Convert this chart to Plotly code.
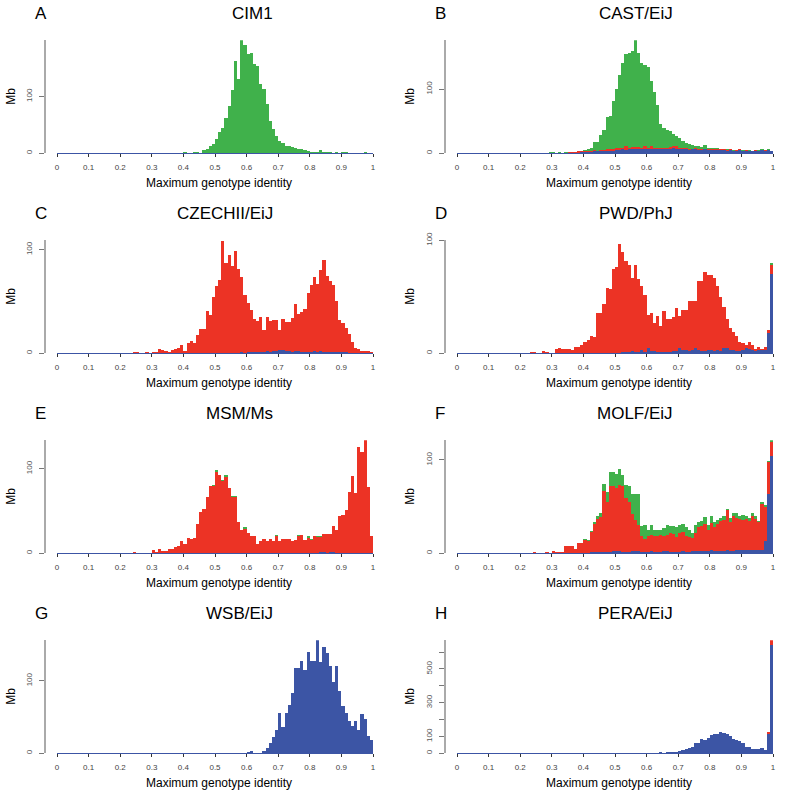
import plotly.graph_objects as go

W, H = 786, 798

# ---------------- data (Mb per 0.01 bin of maximum genotype identity) -------------
bin_centers = [round(i * 0.01 + 0.005, 3) for i in range(100)]
xtick_vals = [0, 0.1, 0.2, 0.3, 0.4, 0.5, 0.6, 0.7, 0.8, 0.9, 1]
xtick_text = ["0", "0.1", "0.2", "0.3", "0.4", "0.5", "0.6", "0.7", "0.8", "0.9", "1"]

cim1_green = [
    0, 0, 0, 0, 0, 0, 0, 0, 0, 0,
    0, 0, 0, 0, 0, 0, 0, 0, 0, 0,
    0, 0, 0, 0, 0, 0, 0, 0, 0, 0,
    0, 0, 1, 0, 0, 0, 0, 0, 0, 0,
    3, 0, 0, 3, 2, 1, 5, 8, 12, 17,
    25, 38, 45, 62, 84, 112, 162, 131, 199, 191,
    175, 176, 157, 153, 122, 113, 86, 57, 42, 30,
    22, 18, 13, 12, 11, 9, 8, 7, 5, 4,
    3, 2, 3, 5, 3, 2, 2, 1, 2, 1,
    2, 2, 1, 1, 0, 0, 1, 2, 0, 1]

cast_blue = [
    0, 0, 0, 0, 0, 0, 0, 0, 0, 0,
    0, 0, 0, 0, 0, 0, 0, 0, 0, 0,
    0, 0, 0, 0, 0, 0, 0, 0, 0, 0,
    0, 0, 0, 0, 0, 1, 1, 1, 1, 2,
    2, 2, 2, 3, 3, 3, 3, 4, 4, 4,
    5, 5, 6, 5, 6, 7, 6, 7, 6, 7,
    6, 7, 6, 6, 7, 6, 6, 7, 8, 7,
    6, 6, 7, 5, 6, 6, 5, 5, 6, 5,
    5, 5, 5, 5, 5, 4, 5, 4, 4, 5,
    4, 4, 4, 3, 4, 4, 5, 4, 5, 3]
cast_red = [
    0, 0, 0, 0, 0, 0, 0, 0, 0, 0,
    0, 0, 0, 0, 0, 0, 0, 0, 0, 0,
    0, 0, 0, 0, 0, 0.5, 0, 0, 0, 1,
    1, 0, 1, 0, 1, 1, 1, 1, 2, 1,
    1, 2, 1, 2, 1, 2, 2, 3, 2, 3,
    3, 4, 3, 6, 3, 3, 4, 3, 3, 4,
    3, 4, 3, 2, 2, 3, 2, 3, 4, 4,
    3, 2, 2, 2, 1, 2, 2, 1, 1, 2,
    1, 1, 2, 1, 1, 1, 1, 0, 1, 1,
    0, 1, 0, 0, 1, 0, 0, 1, 0, 1]
cast_green = [
    0, 0, 0, 0, 0, 0, 0, 0, 0, 0,
    0, 0, 0, 0, 0, 0, 0, 0, 0, 0,
    0, 0, 0, 0, 0, 0.5, 0, 0.5, 0, 0.5,
    0.5, 0.5, 0.5, 1, 1, 0.5, 0.5, 0.5, 1, 1,
    2, 2, 5, 12, 13, 23, 31, 49, 52, 75,
    92, 113, 131, 143, 147, 150, 166, 146, 131, 127,
    125, 101, 87, 67, 37, 31, 29, 24, 18, 16,
    15, 11, 7, 7, 6, 3, 5, 4, 6, 2,
    3, 2, 1, 1, 1, 1, 0, 1, 0, 0,
    1, 0, 1, 1, 0, 1, 1, 0, 1, 0]

czechii_blue = [
    0, 0, 0, 0, 0, 0, 0, 0, 0, 0,
    0, 0, 0, 0, 0, 0, 0, 0, 0, 0,
    0, 0, 0, 0, 0, 0, 0, 0, 0, 0,
    0, 0, 0, 0, 0, 0, 0, 0, 0, 0,
    0, 0, 0, 0, 0, 0, 0, 0, 0, 0,
    0, 0, 0, 0, 0, 0.5, 0.5, 0.5, 1, 0.5,
    1, 1, 1, 1, 1, 1, 2, 1, 2, 2,
    3, 3, 2, 2, 1, 2, 2, 1, 1, 1,
    1, 2, 1, 2, 1, 1, 1, 1, 1, 1,
    1, 1, 0, 0, 0, 0, 0, 0, 0, 0]
czechii_red = [
    0, 0, 0, 0, 0, 0, 0, 0, 0, 0,
    0, 0, 0, 0, 0, 0, 0, 0, 0, 0,
    0, 0, 0, 0, 1, 1, 0, 0, 1, 0,
    1, 1, 4, 3, 2, 1, 3, 4, 5, 8,
    2, 10, 12, 10, 18, 23, 23, 41, 37, 54,
    65, 71, 108, 87, 95, 84, 98, 81, 73, 56,
    48, 41, 32, 30, 34, 21, 33, 30, 30, 30,
    19, 30, 28, 28, 33, 46, 36, 39, 42, 57,
    65, 72, 66, 78, 89, 74, 69, 65, 49, 31,
    28, 23, 19, 11, 5, 4, 2, 2, 2, 1]

pwd_blue = [
    0, 0, 0, 0, 0, 0, 0, 0, 0, 0,
    0, 0, 0, 0, 0, 0, 0, 0, 0, 0,
    0, 0, 0, 0, 0, 0, 0, 0, 0, 0,
    0, 0, 0, 0, 0, 0, 0, 0, 0, 0,
    0, 0, 0, 0, 0, 0.5, 0.5, 0.5, 0.5, 0.5,
    0.5, 0.5, 1, 1, 1, 2, 1.5, 1, 3, 1,
    5, 2, 2, 1.5, 1.5, 1.5, 1, 1.5, 2, 2,
    5, 3, 3, 2, 3, 5, 3, 2, 2, 3,
    3, 2, 3, 2, 5, 5, 3, 3, 2, 2,
    3, 5, 4, 3, 2, 3, 3, 3, 18, 70]
pwd_red = [
    0, 0, 0, 0, 0, 0, 0, 0, 0, 0,
    0, 0, 0, 0, 0, 0, 0, 0, 0, 0,
    0, 0, 0, 1.5, 1.5, 0.5, 0, 2, 1, 0.5,
    0.5, 4, 5, 4, 4, 4, 3, 6, 6, 7,
    10, 12, 15, 14, 36, 35.5, 43.5, 57.5, 56.5, 74.5,
    75.5, 96.5, 89, 81, 77, 65, 76.5, 65, 57, 51,
    29, 34, 25, 31.5, 22.5, 35.5, 29, 28.5, 30, 38,
    28, 35, 35, 44, 43, 41, 61, 62, 70, 66,
    66, 65, 57, 48, 36, 25, 19, 16, 13, 8,
    6, 2, 6, 4, 2, 3, 1, 3, 3, 8]
pwd_green = [
    0, 0, 0, 0, 0, 0, 0, 0, 0, 0,
    0, 0, 0, 0, 0, 0, 0, 0, 0, 0,
    0, 0, 0, 0, 0, 0, 0, 0, 0, 0,
    0, 0, 0, 0, 0, 0, 0, 0, 0, 0,
    0, 0, 0, 0, 0, 0, 0, 0, 0, 0,
    0, 0, 0, 0, 0, 0, 0, 0, 0, 0,
    0, 0, 0, 0, 0, 0, 0, 0, 0, 0,
    0, 0, 0, 0, 0, 0, 0, 0, 0, 0,
    0, 0, 0, 0, 0, 0, 0, 0, 0, 0,
    0, 0, 0, 0, 0, 0, 0, 0, 0, 2]

msm_blue = [
    0, 0, 0, 0, 0, 0, 0, 0, 0, 0,
    0, 0, 0, 0, 0, 0, 0, 0, 0, 0,
    0, 0, 0, 0, 0, 0, 0, 0, 0, 0,
    0, 0, 0, 0, 0, 0, 0, 0, 0, 0,
    0, 0, 0, 0, 0, 0, 0, 0, 0, 0,
    0, 0, 0, 0, 0, 0, 0, 0, 0, 0,
    0, 0, 0, 0, 0, 0, 0, 0, 0, 0,
    0, 0, 0, 0, 0, 0, 0, 0, 0, 0,
    0, 0, 0, 1, 1.5, 0, 1.5, 1, 0, 0,
    0, 0, 0, 0, 0, 0, 0, 0, 0, 0]
msm_red = [
    0, 0, 0, 0, 0, 0, 0, 0, 0, 0,
    0, 0, 0, 0, 0, 0, 0, 0, 0, 0,
    0, 0, 0, 0, 1, 0, 0, 0, 0, 0,
    3.5, 1, 5, 3, 3, 5, 5, 8, 9, 15,
    11, 18, 17, 18, 35, 49, 52, 67, 79, 80,
    96, 92, 86, 90, 77, 67, 66, 37, 28, 29,
    24, 20, 21, 11, 15, 17, 15, 17, 15, 21,
    15, 17, 17, 17, 15, 16, 21, 22, 16, 18,
    16, 20, 19, 18, 21.5, 23, 21.5, 31, 28, 44,
    45, 51, 72, 91, 71, 126, 120, 134, 78, 21]
msm_green = [
    0, 0, 0, 0, 0, 0, 0, 0, 0, 0,
    0, 0, 0, 0, 0, 0, 0, 0, 0, 0,
    0, 0, 0, 0, 0, 0, 0, 0, 0, 0,
    0, 0, 0, 0, 0, 0, 0, 0, 0, 0,
    0, 0, 0, 0, 0, 0, 0, 0, 0, 1,
    2, 0, 1, 2, 0, 1, 2, 0, 0, 2,
    0, 0, 0, 0, 0, 0, 0, 0, 0, 1,
    0, 0, 0, 0, 0, 0, 1, 0, 0, 2,
    1, 0, 2, 2, 0, 0, 0, 0, 0, 0,
    0, 0, 0, 0, 0, 0, 0, 0, 0, 0]

molf_blue = [
    0, 0, 0, 0, 0, 0, 0, 0, 0, 0,
    0, 0, 0, 0, 0, 0, 0, 0, 0, 0,
    0, 0, 0, 0, 0, 0, 0, 0, 0, 0,
    0, 0, 0, 0, 0, 0, 0, 0, 0, 0,
    0.5, 0.5, 1, 1, 1, 1, 1, 1, 1, 2,
    2, 2, 1, 1, 1, 2, 2, 2, 1, 1,
    1, 2, 1, 1, 1, 2, 2, 1, 1, 1,
    1, 2, 1, 1, 2, 2, 2, 2, 2, 2,
    3, 2, 2, 2, 2, 3, 2, 2, 3, 3,
    4, 3, 3, 4, 3, 3, 4, 13, 64, 104]
molf_red = [
    0, 0, 0, 0, 0, 0, 0, 0, 0, 0,
    0, 0, 0, 0, 0, 0, 0, 0, 0, 0,
    0, 0, 0, 0, 1.5, 0, 0, 0, 1, 0,
    2, 1.5, 1, 1, 8, 8, 8, 5, 11, 11,
    13.5, 12.5, 22, 30, 36, 38, 66, 54, 71, 70,
    68, 71, 71, 58, 54, 40, 34, 28, 17, 14,
    18, 18, 17, 17, 19, 16, 18, 21, 20, 16,
    21, 21, 17, 16, 14, 20, 26, 27, 29, 23,
    29, 26, 29, 33, 34, 43, 31, 38, 35, 34,
    32, 34, 32, 36, 34, 30, 49, 37, 34, 15]
molf_green = [
    0, 0, 0, 0, 0, 0, 0, 0, 0, 0,
    0, 0, 0, 0, 0, 0, 0, 0, 0, 0,
    0, 0, 0, 0, 0, 0, 0, 0, 0, 0,
    0, 0, 0, 0, 0, 0, 0, 0, 0, 0,
    1, 1, 1, 3, 3, 4, 7, 11, 15, 15,
    15, 17, 12, 14, 17, 22, 27, 34, 11, 15,
    6, 10, 7, 7, 5, 9, 10, 7, 8, 11,
    8, 8, 10, 8, 6, 8, 5, 6, 8, 5,
    8, 6, 5, 3, 4, 1, 5, 3, 5, 3,
    5, 3, 3, 3, 3, 2, 2, 2, 1, 2]

wsb_blue = [
    0, 0, 0, 0, 0, 0, 0, 0, 0, 0,
    0, 0, 0, 0, 0, 0, 0, 0, 0, 0,
    0, 0, 0, 0, 0, 0, 0, 0, 0, 0,
    0, 0, 0, 0, 0, 0, 0, 0, 0, 0,
    0, 0, 0, 0, 0, 0, 0, 0, 0, 0,
    0, 0, 0, 0, 0, 0, 0, 1, 1, 0,
    2, 3, 0.5, 1, 1, 3, 8, 14, 23, 32,
    55, 36, 55, 66, 83, 118, 118, 128, 115, 140,
    127, 127, 156, 126, 147, 138, 121, 98, 120, 86,
    65, 56, 44, 38, 44, 32, 54, 47, 24, 18]

pera_blue = [
    0, 0, 0, 0, 0, 0, 0, 0, 0, 0,
    0, 0, 0, 0, 0, 0, 0, 0, 0, 0,
    0, 0, 0, 0, 0, 0, 0, 0, 0, 0,
    0, 0, 0, 0, 0, 0, 0, 0, 0, 0,
    0, 0, 0, 0, 0, 0, 0, 0, 0, 0,
    0, 0, 0, 0, 0, 0, 4, 0, 0, 0,
    3, 3, 3, 3, 10, 4, 8, 10, 10, 10,
    14, 20, 24, 30, 36, 60, 60, 86, 80, 90,
    106, 112, 116, 124, 120, 116, 100, 86, 76, 70,
    60, 40, 36, 26, 26, 24, 30, 20, 114, 644]
pera_red = [
    0, 0, 0, 0, 0, 0, 0, 0, 0, 0,
    0, 0, 0, 0, 0, 0, 0, 0, 0, 0,
    0, 0, 0, 0, 0, 0, 0, 0, 0, 0,
    0, 0, 0, 0, 0, 0, 0, 0, 0, 0,
    0, 0, 0, 0, 0, 0, 0, 0, 0, 0,
    0, 0, 0, 0, 0, 0, 0, 0, 0, 0,
    0, 0, 0, 0, 0, 0, 0, 0, 0, 0,
    0, 0, 0, 0, 0, 0, 0, 0, 0, 0,
    0, 0, 0, 0, 0, 0, 0, 0, 0, 0,
    0, 0, 0, 0, 0, 0, 0, 0, 10, 28]

panel_letters = ["A", "B", "C", "D", "E", "F", "G", "H"]
panel_titles = ["CIM1", "CAST/EiJ", "CZECHII/EiJ", "PWD/PhJ",
                "MSM/Ms", "MOLF/EiJ", "WSB/EiJ", "PERA/EiJ"]
panel_ymax = [199, 176, 109, 100, 133.5, 121, 156, 670]
panel_series = [
    [("blue", None), ("red", None), ("green", cim1_green)],
    [("blue", cast_blue), ("red", cast_red), ("green", cast_green)],
    [("blue", czechii_blue), ("red", czechii_red), ("green", None)],
    [("blue", pwd_blue), ("red", pwd_red), ("green", pwd_green)],
    [("blue", msm_blue), ("red", msm_red), ("green", msm_green)],
    [("blue", molf_blue), ("red", molf_red), ("green", molf_green)],
    [("blue", wsb_blue), ("red", None), ("green", None)],
    [("blue", pera_blue), ("red", pera_red), ("green", None)],
]
ytick_sets = [
    ([0, 100], ["0", "100"]),
    ([0, 100], ["0", "100"]),
    ([0, 100], ["0", "100"]),
    ([0, 100], ["0", "100"]),
    ([0, 100], ["0", "100"]),
    ([0, 100], ["0", "100"]),
    ([0, 100], ["0", "100"]),
    ([0, 100, 200, 300, 400, 500, 600], ["0", "100", "", "300", "", "500", ""]),
]

# ---------------- styling ----------------
COLORS = {"green": "#40B14B", "red": "#EC3325", "blue": "#3C55A5"}
FONT = "Liberation Sans, Arial, sans-serif"

fig = go.Figure()
layout = dict(
    width=W, height=H, margin=dict(l=0, r=0, t=0, b=0, pad=0, autoexpand=False),
    paper_bgcolor="white", plot_bgcolor="white",
    barmode="stack", bargap=0, showlegend=False,
    font=dict(family=FONT, color="#000"),
)
annotations = []


def px(x):
    return x / W


def py(y):
    return 1 - y / H


for i in range(8):
    row, col = divmod(i, 2)
    x0 = 57 if col == 0 else 457
    x1 = x0 + 316
    base = 153.3 + 200 * row
    top = base - 113
    axis_x = 45 if col == 0 else 445
    n = "" if i == 0 else str(i + 1)
    xa, ya = "x" + n, "y" + n

    for cname, vals in panel_series[i]:
        if vals is None:
            continue
        fig.add_trace(go.Bar(
            x=bin_centers, y=vals, width=0.01, xaxis=xa, yaxis=ya,
            marker=dict(color=COLORS[cname], line=dict(width=0)),
            hoverinfo="skip"))

    layout["xaxis" + n] = dict(
        domain=[px(x0), px(x1)], anchor=ya, range=[0, 1], automargin=False,
        showgrid=False, zeroline=False,
        showline=True, linecolor=COLORS["blue"], linewidth=1,
        ticks="outside", ticklen=3, tickwidth=1, tickcolor="#333",
        tickvals=xtick_vals, ticktext=xtick_text,
        tickfont=dict(size=8, color="#444", family=FONT),
        ticklabelstandoff=3,
    )
    tv, tt = ytick_sets[i]
    layout["yaxis" + n] = dict(
        domain=[py(base), py(top)], anchor="free", position=px(axis_x),
        range=[0, panel_ymax[i]], automargin=False,
        showgrid=False, zeroline=False,
        showline=True, linecolor="#aaaaaa", linewidth=2,
        ticks="outside", ticklen=5, tickwidth=1, tickcolor="#777",
        tickvals=tv, ticktext=tt, tickangle=-90,
        tickfont=dict(size=8, color="#555", family=FONT),
        ticklabelstandoff=4,
    )

    ty = base - 139.5
    annotations.append(dict(text=panel_letters[i], x=px(33 if col == 0 else 433), y=py(ty),
                            xref="paper", yref="paper", xanchor="left", yanchor="middle",
                            showarrow=False, font=dict(size=17, family=FONT, color="#000")))
    annotations.append(dict(text=panel_titles[i], x=px(275 if col == 0 else 675), y=py(ty),
                            xref="paper", yref="paper", xanchor="right", yanchor="middle",
                            showarrow=False, font=dict(size=17, family=FONT, color="#000")))
    annotations.append(dict(text="Maximum genotype identity", x=px(x0 + 162), y=py(base + 29.4),
                            xref="paper", yref="paper", xanchor="center", yanchor="middle",
                            showarrow=False, font=dict(size=12, family=FONT, color="#000")))
    annotations.append(dict(text="Mb", x=px(11 if col == 0 else 410), y=py(base - 56.5),
                            xref="paper", yref="paper", xanchor="center", yanchor="middle",
                            textangle=-90, showarrow=False,
                            font=dict(size=12, family=FONT, color="#000")))

layout["annotations"] = annotations
fig.update_layout(**layout)
fig.write_html("out.html", config={"displayModeBar": False, "staticPlot": True},
               post_script="document.body.style.margin='0';document.body.style.padding='0';")
